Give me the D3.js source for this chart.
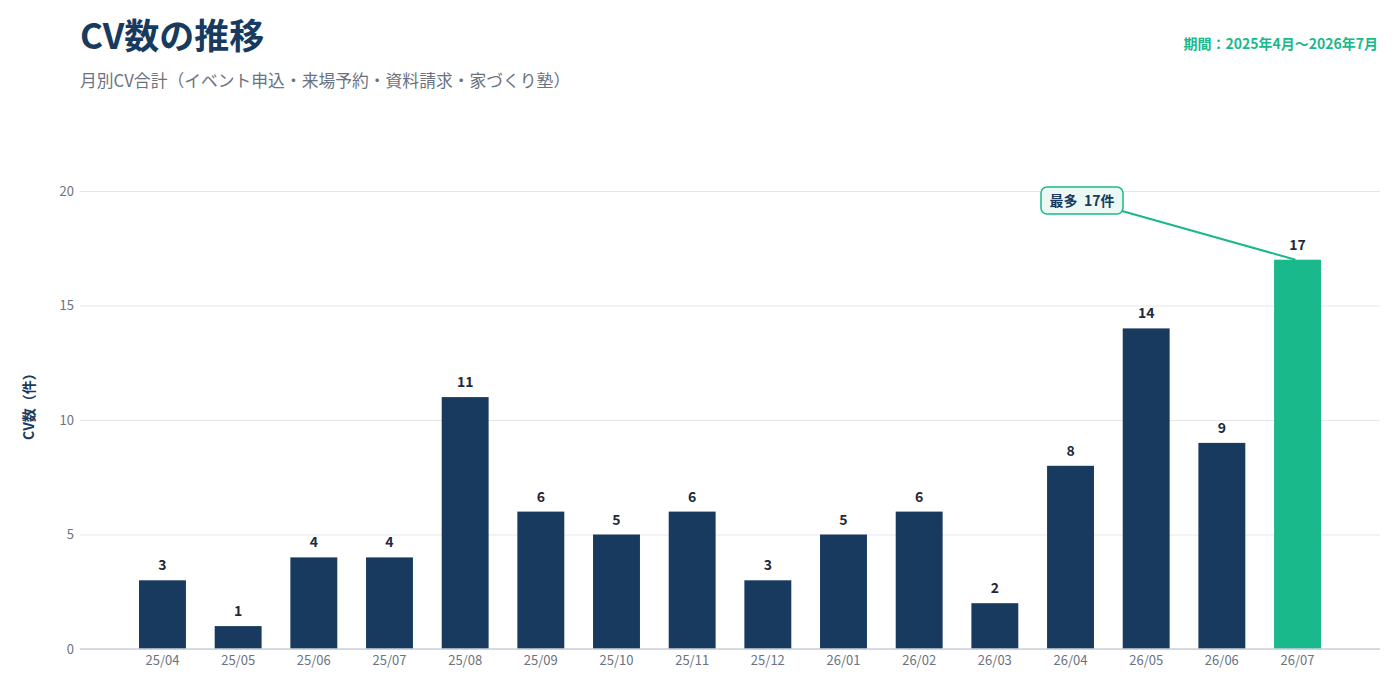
<!DOCTYPE html>
<html><head><meta charset="utf-8">
<script src="https://cdn.jsdelivr.net/npm/d3@7/dist/d3.min.js"></script>
<style>
body{margin:0;background:#fff;}
svg{display:block;font-family:"Noto Sans CJK JP","Noto Sans",sans-serif;}
</style></head>
<body><svg id="c" width="1400" height="689"></svg>
<script>
const categories = ["25/04","25/05","25/06","25/07","25/08","25/09","25/10","25/11","25/12","26/01","26/02","26/03","26/04","26/05","26/06","26/07"];
const values = [3,1,4,4,11,6,5,6,3,5,6,2,8,14,9,17];
const yTicks = [0,5,10,15,20];
const title = "CV数の推移";
const subtitle = "月別CV合計（イベント申込・来場予約・資料請求・家づくり塾）";
const period = "期間：2025年4月〜2026年7月";
const yLabel = "CV数（件）";
const annotationText = "最多\u00a0\u00a017件";

const FONT = '"Noto Sans CJK JP","Noto Sans",sans-serif';
const navy = "#173a5e", green = "#1ab98c";
const svg = d3.select("#c");
const x = d3.scaleBand().domain(categories).range([80,1380]).paddingInner(0.38).paddingOuter(0.78);
const y = d3.scaleLinear().domain([0,20]).range([649,191]);

svg.append("text").attr("x",80).attr("y",49).attr("font-size",35).attr("font-weight",700).attr("fill","#173a5e").text(title);
svg.append("text").attr("x",80).attr("y",87).attr("font-size",16.8).attr("fill","#6b7280").text(subtitle);
svg.append("text").attr("x",1378).attr("y",49).attr("text-anchor","end").attr("font-size",14).attr("font-weight",700).attr("fill",green).text(period);

// grid
const yAxis = d3.axisLeft(y).tickValues(yTicks).tickSize(-1300).tickPadding(6);
const gy = svg.append("g").attr("transform","translate(80,0)").call(yAxis).attr("font-family",FONT);
gy.select(".domain").remove();
gy.selectAll(".tick line").attr("stroke","#e3e7ec").attr("stroke-width",1);
gy.selectAll(".tick text").attr("font-size",13).attr("fill","#6b7280");

// bars
svg.append("g").selectAll("rect").data(values).join("rect")
  .attr("x",(d,i)=>x(categories[i])).attr("width",x.bandwidth())
  .attr("y",d=>y(d)).attr("height",d=>649-y(d))
  .attr("fill",(d,i)=>d===d3.max(values)?green:navy);

svg.append("g").selectAll("text").data(values).join("text")
  .attr("x",(d,i)=>x(categories[i])+x.bandwidth()/2).attr("y",d=>y(d)-10)
  .attr("text-anchor","middle").attr("font-size",14).attr("font-weight",700).attr("fill","#1e293b").text(d=>d);

// x axis
const xAxis = d3.axisBottom(x).tickSize(0).tickPadding(7);
const gx = svg.append("g").attr("transform","translate(0,649)").call(xAxis).attr("font-family",FONT);
gx.select(".domain").attr("stroke","#cbd2da").attr("stroke-width",1.5).attr("d","M80,0H1380");
gx.selectAll(".tick text").attr("font-size",13).attr("fill","#6b7280");

// y label
svg.append("text").attr("transform","translate(34,403) rotate(-90)").attr("text-anchor","middle")
  .attr("font-size",14).attr("font-weight",700).attr("fill","#173a5e").text(yLabel);

// annotation
const maxI = values.indexOf(d3.max(values));
const bx = x(categories[maxI])+x.bandwidth()/2, by = y(values[maxI]);
svg.append("line").attr("x1",1122).attr("y1",211).attr("x2",bx-2).attr("y2",by)
  .attr("stroke",green).attr("stroke-width",2);
svg.append("rect").attr("x",1041).attr("y",187).attr("width",82).attr("height",27).attr("rx",6)
  .attr("fill","#ebf8f3").attr("stroke",green).attr("stroke-width",1.5);
svg.append("text").attr("x",1082).attr("y",206).attr("text-anchor","middle").attr("font-size",14)
  .attr("font-weight",700).attr("fill","#173a5e").text(annotationText);
</script></body></html>
